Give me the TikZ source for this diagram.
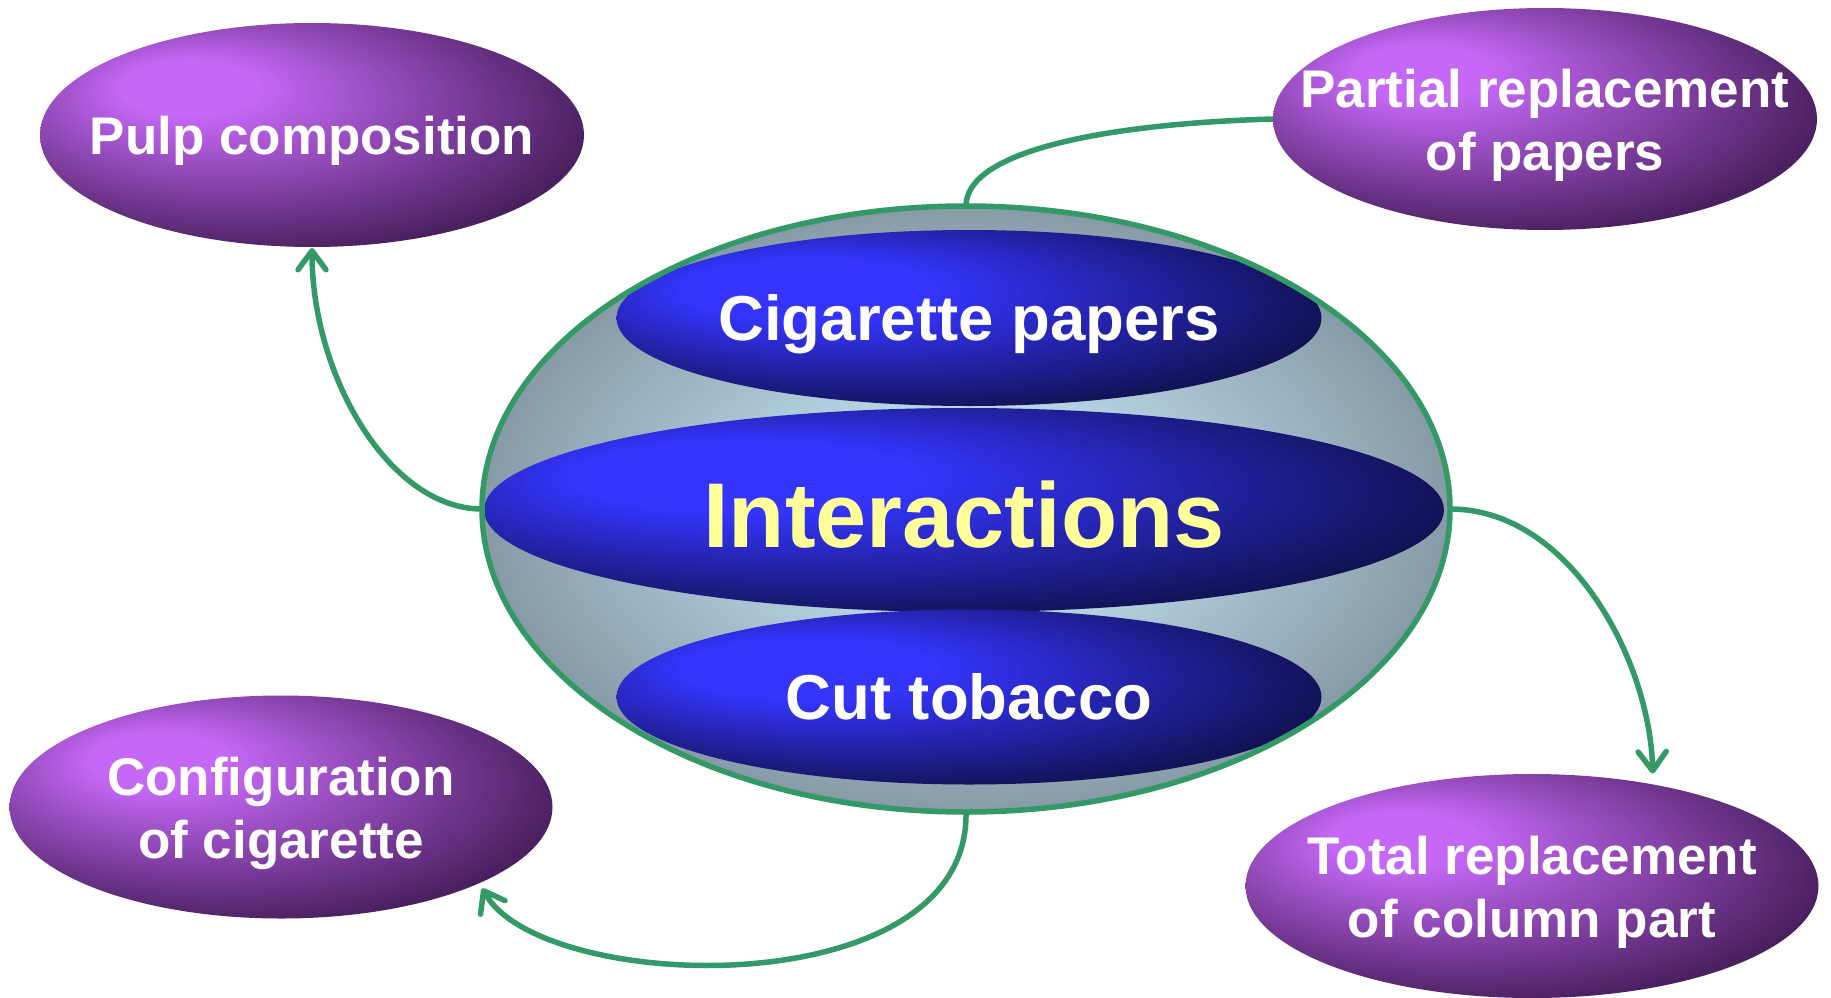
\documentclass[tikz,border=0pt]{standalone}
\usepackage{fontspec}
\setmainfont{Liberation Sans}
\usetikzlibrary{shapes.geometric,arrows.meta}

\definecolor{linkgreen}{HTML}{339966}
\definecolor{plumlight}{HTML}{C668F7}
\definecolor{plumdark}{HTML}{4A2060}
\definecolor{royallight}{HTML}{3434FC}
\definecolor{royaldark}{HTML}{0F0F46}
\definecolor{mistlight}{HTML}{B8D5E5}
\definecolor{mistdark}{HTML}{879BA7}
\definecolor{labelyellow}{HTML}{FFFF99}

% focal gradients: bright spot towards the upper left, dark towards right and bottom
\pgfdeclareradialshading{plumball}{\pgfpoint{-13bp}{12bp}}{%
  color(0bp)=(plumlight); color(6bp)=(plumlight);
  color(31bp)=(plumdark); color(50bp)=(plumdark)}
\pgfdeclareradialshading{royalball}{\pgfpoint{-14bp}{10bp}}{%
  color(0bp)=(royallight); color(9bp)=(royallight);
  color(33bp)=(royaldark); color(50bp)=(royaldark)}
\pgfdeclareradialshading{mistball}{\pgfpoint{0bp}{0bp}}{%
  color(0bp)=(mistlight); color(9bp)=(mistlight);
  color(25bp)=(mistdark); color(50bp)=(mistdark)}

\begin{document}
\begin{tikzpicture}[x=1pt,y=-1pt,
  link/.style={draw=linkgreen, line width=5.5pt},
  arrowend/.style={-{Straight Barb[length=19pt,width=28pt,round]}},
  topic/.style={ellipse, shade, shading=plumball, inner sep=0pt, outer sep=0pt},
  topictext/.style={text=white, align=center, yshift=-6pt,
    font=\fontsize{53}{63}\selectfont\bfseries},
  layer/.style={ellipse, shade, shading=royalball, inner sep=0pt, outer sep=0pt},
  layertext/.style={text=white, font=\fontsize{63.5}{70}\selectfont\bfseries},
]
\fill[white] (0,0) rectangle (1831,998);
\useasboundingbox (0,0) rectangle (1831,998);

% outer topics (ellipse sizes fixed, captions set as centred labels)
\node[topic, minimum width=544pt, minimum height=224pt,
  label={[topictext]center:Pulp composition}] (pulp) at (312,135) {};
\node[topic, minimum width=544pt, minimum height=222pt,
  label={[topictext]center:Partial replacement\\of papers}] (partial) at (1545,119) {};
\node[topic, minimum width=573pt, minimum height=224pt,
  label={[topictext]center:Total replacement\\of column part}] (total) at (1532,886) {};
\node[topic, minimum width=543pt, minimum height=223pt,
  label={[topictext]center:Configuration\\of cigarette}] (config) at (281,807) {};

% central body
\node[ellipse, shade, shading=mistball, inner sep=0pt, outer sep=0pt,
  minimum width=968pt, minimum height=606pt] (core) at (966,509) {};
\begin{scope}
  \clip (core.center) ellipse [x radius=484pt, y radius=303pt];
  \node[layer, minimum width=705pt, minimum height=176pt,
    label={[layertext, yshift=-6pt]center:Cigarette papers}] (papers) at (969,318) {};
  \node[layer, minimum width=960pt, minimum height=204pt,
    label={[layertext, yshift=-5pt, text=labelyellow,
      font=\fontsize{92}{100}\selectfont\bfseries]center:Interactions}] (inter) at (964,510) {};
  \node[layer, minimum width=705pt, minimum height=175pt,
    label={[layertext]center:Cut tobacco}] (tobacco) at (969,697) {};
\end{scope}
\draw[link] (core.center) ellipse [x radius=484pt, y radius=303pt];

% connectors
\draw[link, arrowend, shorten >=1pt] (core.west) .. controls +(-92,0) and +(0,130) .. (pulp.south);
\draw[link] (core.north) .. controls +(0,-54) and +(-173,5) .. (partial.west);
\draw[link, arrowend, shorten >=11pt] (core.east) .. controls +(120,0) and +(-3,-124) .. (total.40);
\draw[link, arrowend, shorten >=6pt] (core.south) .. controls +(4,195) and +(62,112) .. (config.-21);
\end{tikzpicture}
\end{document}
